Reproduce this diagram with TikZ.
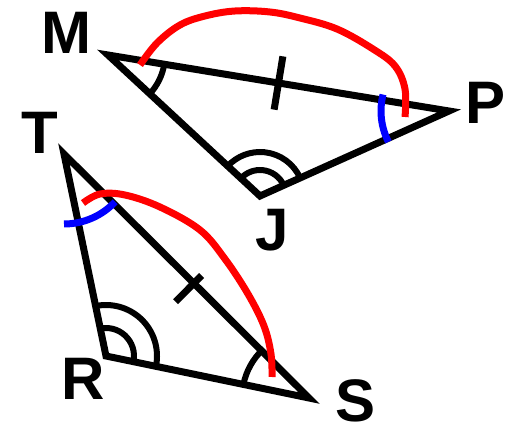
\documentclass[tikz,border=0pt]{standalone}
\usepackage{fontspec}
\setsansfont{Liberation Sans}
\usetikzlibrary{calc}

\begin{document}
\begin{tikzpicture}[
  x=1pt, y=1pt,
  font=\sffamily\bfseries\fontsize{60}{60}\selectfont,
  side/.style={draw=black, line width=7pt, line join=miter},
  anglemark/.style={draw=black, line width=6pt},
  tickmark/.style={draw=black, line width=7pt},
  redarc/.style={draw=red, line width=7pt},
  bluearc/.style={draw=blue, line width=7pt},
  vlabel/.style={inner sep=0pt},
]
\useasboundingbox (0,0) rectangle (518,434);

% Vertices of both triangles
\coordinate (M) at (108,379);
\coordinate (P) at (449,323);
\coordinate (J) at (260,238);
\coordinate (T) at (64,280);
\coordinate (R) at (106,78);
\coordinate (S) at (309,36);

% Vertex letters
\node[vlabel] (lblM) at (66,401) {M};
\node[vlabel] (lblP) at (485,331) {P};
\node[vlabel] (lblJ) at (272,204) {J};
\node[vlabel] (lblT) at (40,301) {T};
\node[vlabel] (lblR) at (83,55) {R};
\node[vlabel] (lblS) at (356,33) {S};

% Triangles
\draw[side] (M) -- (P) -- (J) -- cycle;
\draw[side] (T) -- (R) -- (S) -- cycle;

% Congruent sides
\draw[tickmark] ($(M)!.5!(P)!27pt!90:(P)$) -- ($(M)!.5!(P)!27pt!-90:(P)$);
\draw[tickmark] ($(T)!.53!(S)!11pt!90:(S)$) -- ($(T)!.53!(S)!26pt!-90:(S)$);

% Angle marks
\draw[anglemark] ([shift={(-43:57)}]M) arc[start angle=-43, end angle=-9, radius=57];
\draw[anglemark] ([shift={(24:44)}]J) arc[start angle=24, end angle=137, radius=44];
\draw[anglemark] ([shift={(24:26)}]J) arc[start angle=24, end angle=137, radius=26];
\draw[anglemark] ([shift={(-12:51)}]R) arc[start angle=-12, end angle=102, radius=51];
\draw[anglemark] ([shift={(-12:28)}]R) arc[start angle=-12, end angle=102, radius=28];
\draw[anglemark] ([shift={(134:67)}]S) arc[start angle=134, end angle=168, radius=67];

% Blue angle marks
\draw[bluearc] ([shift={(166:68)}]P) arc[start angle=166, end angle=207, radius=68];
\draw[bluearc] ([shift={(-90:70)}]T) arc[start angle=-90, end angle=-43, radius=70];

% Red arcs over the included sides
\draw[redarc] plot[smooth, tension=0.6] coordinates {(140,369) (157,391) (180,409) (205,418)
  (235,423) (270,422) (300,416) (337,405) (373,385) (395,368) (405,345) (405,317)};
\draw[redarc] plot[smooth, tension=0.6] coordinates {(83,231) (100,240) (125,239) (160,227)
  (200,204) (225,175) (248,140) (264,108) (271,80) (272,57)};

\end{tikzpicture}
\end{document}
